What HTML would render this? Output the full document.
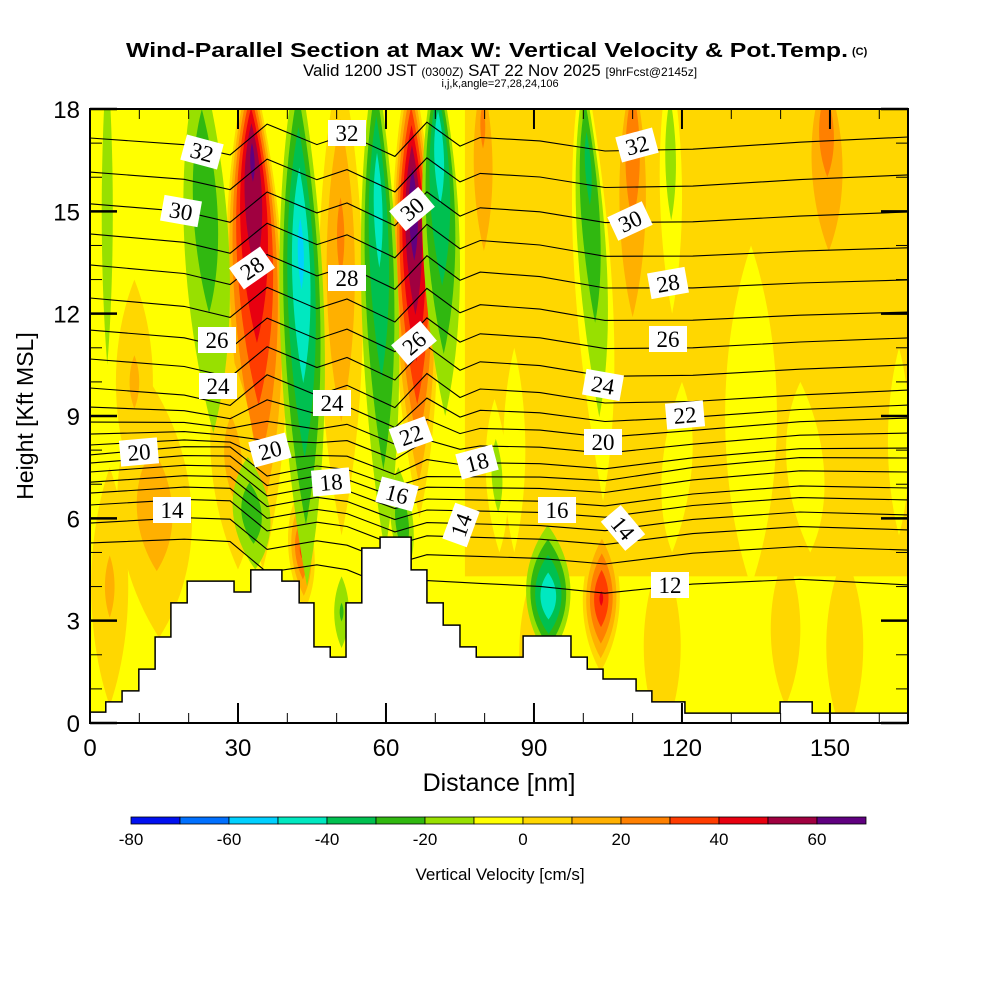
<!DOCTYPE html>
<html><head><meta charset="utf-8">
<style>
html,body{margin:0;padding:0;background:#fff;}
svg{display:block;font-family:"Liberation Sans",sans-serif;}
</style></head>
<body>
<svg id="chart" width="1000" height="1000" viewBox="0 0 1000 1000" xmlns="http://www.w3.org/2000/svg">
<defs><clipPath id="plotclip"><rect x="90" y="109" width="818" height="614"/></clipPath></defs>
<text x="126" y="57" font-size="20" font-weight="bold" textLength="722" lengthAdjust="spacingAndGlyphs">Wind-Parallel Section at Max W: Vertical Velocity &amp; Pot.Temp.</text>
<text x="852" y="55" font-size="11" font-weight="bold">(C)</text>
<text x="500" y="76" font-size="17" text-anchor="middle">Valid 1200 JST <tspan font-size="12">(0300Z)</tspan> SAT 22 Nov 2025 <tspan font-size="12">[9hrFcst@2145z]</tspan></text>
<text x="500" y="87" font-size="11" text-anchor="middle">i,j,k,angle=27,28,24,106</text>
<g id="field" clip-path="url(#plotclip)"></g>
<g id="contours" clip-path="url(#plotclip)"></g>
<g id="terrain"></g>
<g id="labels" clip-path="url(#plotclip)"></g>
<rect x="90" y="109" width="818" height="614" fill="none" stroke="#000" stroke-width="2"/>
<g id="axes"></g>
<text transform="translate(33,416) rotate(-90)" font-size="23" text-anchor="middle">Height [Kft MSL]</text>
<text x="499" y="791" font-size="25" text-anchor="middle">Distance [nm]</text>
<g id="colorbar"></g>
<text x="500" y="880" font-size="17" text-anchor="middle">Vertical Velocity [cm/s]</text>
</svg>
<script>
// ---- data ----
const xTicks = [0, 30, 60, 90, 120, 150];
const yTicks = [0, 3, 6, 9, 12, 15, 18];
const cbLabels = [-80, -60, -40, -20, 0, 20, 40, 60];
const binColors = ["#0010f0","#0070ff","#00d0ff","#00e8c0","#00c050","#30b810","#98e000","#ffff00","#ffd700","#ffb000","#ff8000","#ff3c00","#e80010","#a00040","#600080"];
// terrain steps (nm edges, kft heights)
const terrainEdges = [0,3.2,6.5,9.9,13.2,16.4,19.7,29.2,32.6,38.9,42.4,45.4,48.7,51.9,55.1,58.8,65.1,68.3,71.6,75.0,78.3,87.8,97.5,100.8,104.0,110.7,113.9,120.6,139.9,146.4,166];
const terrainHeights = [0.32,0.62,0.94,1.58,2.52,3.52,4.16,3.84,4.49,4.16,3.52,2.23,1.93,3.52,5.13,5.45,4.49,3.52,2.87,2.23,1.93,2.55,1.93,1.58,1.29,0.94,0.62,0.29,0.62,0.29];
// base regions: nm range, kft range, value
const regionX0 = [76];
const regionX1 = [170];
const regionK0 = [4.3];
const regionK1 = [19];
const regionV = [5];
// vertical-velocity cells (lens shaped)
const blobXTop = [134,164,86,120,144, 90,116,141,153, 32.4,64.9,110,149,79.5,12.2,4,50.7,42.2,103.8,28,9, 22.3,42,57.8,70.3,100,117.5,92.8,3.5,32,51,82,62.5];
const blobXBot = [134,164,86,118,146, 90,116,141,153, 35,66.8,110,150,80,14,4,51,43.5,103.5,30,9, 25,44,59.8,72,104,118,93,3.5,33.5,51,83,64];
const blobTop  = [14,11,11,10,10, 4.5,5,5,5, 19.5,19.5,19.5,19.5,19.5,10,7.5,19.5,6.8,5.8,11,13, 19.5,19.5,19.5,19.5,19.5,19.5,5.8,19.5,7.8,4.3,9.5,7.5];
const blobBot  = [4,5.5,5,5,5, -0.5,-0.5,0.5,-0.5, 4.5,6,9.5,12,11.5,2.5,0.5,5.5,3.3,1.5,4.5,7, 8.5,4,5,9,6.5,12,1.9,10.5,4.5,2.2,5,4.3];
const blobW    = [7,3,3,4,5, 4,5,4,5, 8,6,5,6,4,10,5,6,3.5,5,6,5, 6,6,5,5,5,3,6,1.5,5,2,3,3];
const blobV    = [-5,-5,-5,-5,-5, 8,8,8,8, 62,68,28,26,22,16,12,22,32,42,14,12, -28,-53,-45,-46,-33,-16,-50,-15,-28,-22,-16,-30];
const blobBase = [0,0,0,0,0, 0,0,0,0, 0,0,0,0,0,0,0,0,0,0,0,0, -10,-10,-10,-10,0,0,-10,-10,-10,-10,0,-10];
const blobCore = [0.5,0.5,0.5,0.5,0.5, 0.5,0.5,0.5,0.5, 0.18,0.3,0.15,0.2,0.2,0.5,0.5,0.35,0.5,0.5,0.5,0.5, 0.3,0.35,0.25,0.2,0.2,0.3,0.55,0.3,0.5,0.5,0.5,0.5];
// potential temperature contours
const thetaLevels = [32,31,30,29,28,27,26,25,24,23,22,21,20,19,18,17,16,15,14,13,12];
const thetaLeft  = [17.15,16.15,15.22,14.34,13.43,12.46,11.52,10.67,9.82,9.26,8.82,8.47,8.15,7.86,7.62,7.36,7.06,6.74,6.39,5.86,5.28];
const thetaRight = [17.18,16.07,14.98,13.93,12.99,12.05,11.29,10.50,9.76,9.32,8.94,8.50,8.06,7.77,7.36,6.89,6.54,6.10,5.66,5.07,4.05];
const thetaUpperWeight = [1,1,1,1,1,1,1,1,1,0.8,0.6,0.4,0.2,0,0,0,0,0,0,0,0];
const stationNm = [0,19.1,28.4,35.9,46.0,52.1,61.8,68.3,75.0,79.1,91.2,104.4,122.2,143.9,165.8];
const dispUpper = [0,-0.2,-0.5,0.4,-0.2,0.1,-0.55,0.45,-0.25,0,-0.1,-0.4,-0.35,-0.15,0];
const dispLower = [0,0.25,0.25,-0.6,-0.3,-0.4,-0.9,-0.6,-0.6,-0.6,-0.6,-0.7,-0.3,0,0];
// contour label annotations: text, pixel x, pixel y, rotation
const labelText = ["32","30","28","26","24","20","14","32","28","24","20","18","16","30","26","22","18","14","16","14","12","32","30","28","26","24","22","20"];
const labelPx = [202,181,252,217,218,139,172,347,347,332,270,331,397,412,414,411,477,461,557,623,670,637,630,668,668,603,685,603];
const labelPy = [152,211,268,340,386,452,510,133,278,403,450,482,494,209,343,435,462,525,510,528,585,145,221,283,339,385,415,442];
const labelRot = [15,10,-35,0,0,-5,0,0,0,0,-15,-5,15,-40,-40,-20,-15,-70,0,50,0,-15,-25,-10,0,10,-5,0];

// ---- scales ----
const X = nm => 90 + nm * 4.933;
const Y = k => 723 - k * 34.11;
const NS = "http://www.w3.org/2000/svg";
function mk(tag, attrs, parent) {
  const e = document.createElementNS(NS, tag);
  for (const k in attrs) e.setAttribute(k, attrs[k]);
  parent.appendChild(e);
  return e;
}
function colorFor(v) {
  let i = Math.floor((v + 80) / 10);
  i = Math.max(0, Math.min(binColors.length - 1, i));
  return binColors[i];
}

// ---- field ----
const field = document.getElementById('field');
const bg = mk('rect', {x: 90, y: 109, width: 818, height: 614, fill: colorFor(-5)}, field);


for (let i = 0; i < regionV.length; i++) {
  const r = mk('rect', {x: X(regionX0[i]), y: Y(regionK1[i]), width: X(regionX1[i]) - X(regionX0[i]), height: Y(regionK0[i]) - Y(regionK1[i]), fill: colorFor(regionV[i])}, field);
  
  
}
function lens(i, s) {
  const xt = blobXTop[i], xb = blobXBot[i], yt = blobTop[i], yb = blobBot[i], c = blobCore[i];
  const cx = xt + (xb - xt) * c, cy = yt + (yb - yt) * c;
  const txn = cx + (xt - cx) * s, tyk = cy + (yt - cy) * s;
  const bxn = cx + (xb - cx) * s, byk = cy + (yb - cy) * s;
  const Tx = X(txn), Ty = Y(tyk), Bx = X(bxn), By = Y(byk);
  const W = blobW[i] * s * 4.933, h = By - Ty;
  return `M${Tx},${Ty} C${Tx+W},${Ty+h*0.3} ${Bx+W},${By-h*0.3} ${Bx},${By} C${Bx-W},${By-h*0.3} ${Tx-W},${Ty+h*0.3} ${Tx},${Ty} Z`;
}
for (let i = 0; i < blobV.length; i++) {
  const v = blobV[i], b = blobBase[i];
  if (v > b) {
    for (let l = b; l < v; l += 10) {
      const s = Math.pow((v - l) / (v - b), 0.75);
      const p = mk('path', {d: lens(i, s), fill: colorFor(l + 5)}, field);
      
      
    }
  } else {
    for (let l = b; l > v; l -= 10) {
      const s = Math.pow((l - v) / (b - v), 0.75);
      const p = mk('path', {d: lens(i, s), fill: colorFor(l - 5)}, field);
      
      
    }
  }
}

// ---- contours ----
const contours = document.getElementById('contours');
for (let i = 0; i < thetaLevels.length; i++) {
  let d = '';
  for (let s = 0; s < stationNm.length; s++) {
    const nm = stationNm[s];
    const f = nm / 165.8;
    const base = thetaLeft[i] + (thetaRight[i] - thetaLeft[i]) * f;
    const w = thetaUpperWeight[i];
    const k = base + w * dispUpper[s] + (1 - w) * dispLower[s];
    d += (s ? ' L' : 'M') + X(nm).toFixed(1) + ',' + Y(k).toFixed(1);
  }
  const p = mk('path', {d: d, fill: 'none', stroke: '#000', 'stroke-width': 1.1}, contours);
  
  
}

// ---- terrain ----
const terrain = document.getElementById('terrain');
let td = `M${X(terrainEdges[0])},${Y(0)}`;
for (let i = 0; i < terrainHeights.length; i++) {
  td += ` L${X(terrainEdges[i])},${Y(terrainHeights[i])} L${Math.min(908, X(terrainEdges[i + 1]))},${Y(terrainHeights[i])}`;
}
td += ` L908,${Y(0)} Z`;
const tp = mk('path', {d: td, fill: '#fff', stroke: '#000', 'stroke-width': 1.5}, terrain);



// ---- contour labels ----
const labels = document.getElementById('labels');
for (let i = 0; i < labelText.length; i++) {
  const g = mk('g', {transform: `translate(${labelPx[i]},${labelPy[i]}) rotate(${labelRot[i]})`}, labels);
  
  
  mk('rect', {x: -19, y: -13, width: 38, height: 26, fill: '#fff'}, g);
  const t = mk('text', {x: 0, y: 8, 'text-anchor': 'middle', 'font-size': 23, 'font-family': '"Liberation Serif",serif'}, g);
  t.textContent = labelText[i];
}

// ---- axes ----
const axes = document.getElementById('axes');
for (let v = 0; v <= 165; v += 10) {
  const major = v % 30 === 0;
  const len = major ? 20 : 10;
  mk('line', {x1: X(v), x2: X(v), y1: 723, y2: 723 - len, stroke: '#000', 'stroke-width': major ? 2 : 1}, axes);
  mk('line', {x1: X(v), x2: X(v), y1: 109, y2: 109 + len, stroke: '#000', 'stroke-width': major ? 2 : 1}, axes);
}
for (let v = 0; v <= 18; v += 1) {
  const major = v % 3 === 0;
  const len = major ? 27 : 12;
  mk('line', {x1: 90, x2: 90 + len, y1: Y(v), y2: Y(v), stroke: '#000', 'stroke-width': major ? 2.5 : 1}, axes);
  mk('line', {x1: 908, x2: 908 - len, y1: Y(v), y2: Y(v), stroke: '#000', 'stroke-width': major ? 2.5 : 1}, axes);
}
xTicks.forEach(v => {
  const t = mk('text', {x: X(v), y: 756, 'text-anchor': 'middle', 'font-size': 24}, axes);
  
  
  t.textContent = v;
});
yTicks.forEach(v => {
  const t = mk('text', {x: 80, y: Y(v) + 9, 'text-anchor': 'end', 'font-size': 24}, axes);
  
  
  t.textContent = v;
});

// ---- colorbar ----
const cb = document.getElementById('colorbar');
const cbX = v => 131 + (v + 80) * 4.9;
for (let i = 0; i < binColors.length; i++) {
  const r = mk('rect', {x: cbX(-80 + i * 10), y: 817, width: 49, height: 7, fill: binColors[i], stroke: '#000', 'stroke-width': 0.8}, cb);
  
  
}
cbLabels.forEach(v => {
  const t = mk('text', {x: cbX(v), y: 845, 'text-anchor': 'middle', 'font-size': 17}, cb);
  
  
  t.textContent = v;
});
</script>
</body></html>
